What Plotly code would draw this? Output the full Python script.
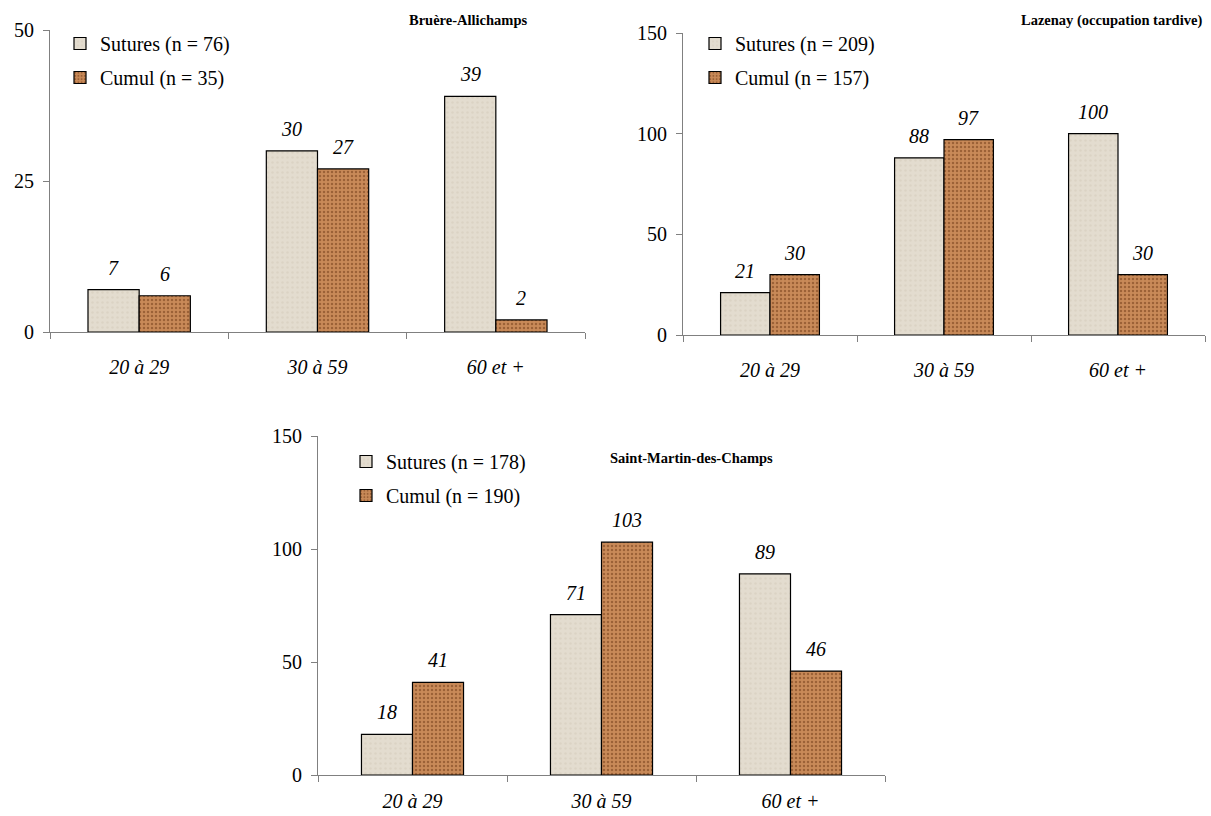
import plotly.graph_objects as go

categories = ["20 à 29", "30 à 59", "60 et +"]

titles = ["Bruère-Allichamps", "Lazenay (occupation tardive)", "Saint-Martin-des-Champs"]

sutures_1 = [7, 30, 39]
cumul_1 = [6, 27, 2]
sutures_n_1, cumul_n_1 = 76, 35

sutures_2 = [21, 88, 100]
cumul_2 = [30, 97, 30]
sutures_n_2, cumul_n_2 = 209, 157

sutures_3 = [18, 71, 89]
cumul_3 = [41, 103, 46]
sutures_n_3, cumul_n_3 = 178, 190

y_max = [50, 150, 150]
y_dtick = [25, 50, 50]

W, H = 1211, 816
FONT = "Liberation Serif, Times New Roman, serif"
FS = 20

def px(v):
    return v / W

def py(v):
    return 1 - v / H

panels = [
    dict(s=sutures_1, c=cumul_1, ns=sutures_n_1, nc=cumul_n_1,
         xd=[px(50), px(585)], yd=[py(332), py(30)], bw=0.287, standoff=17,
         leg=(px(60), py(24)), title_pos=(px(529), py(20), "right")),
    dict(s=sutures_2, c=cumul_2, ns=sutures_n_2, nc=cumul_n_2,
         xd=[px(683), px(1205)], yd=[py(335), py(33)], bw=0.284, standoff=17,
         leg=(px(695), py(24)), title_pos=(px(1204), py(20), "right")),
    dict(s=sutures_3, c=cumul_3, ns=sutures_n_3, nc=cumul_n_3,
         xd=[px(318), px(885)], yd=[py(775), py(436)], bw=0.27, standoff=8,
         leg=(px(346), py(442)), title_pos=(px(608), py(458), "left")),
]

SUT_BG = "#e3dccf"
SUT_FG = "#d4cab9"
CUM_BG = "#c98a58"
CUM_FG = "#6e3a16"

fig = go.Figure()
annotations = []
layout_axes = {}

for i, p in enumerate(panels):
    k = "" if i == 0 else str(i + 1)
    xa, ya = "x" + k, "y" + k
    legname = "legend" + k
    fig.add_trace(go.Bar(
        x=categories, y=p["s"], name=f"Sutures (n = {p['ns']})",
        width=p["bw"], offset=-p["bw"],
        marker=dict(color=SUT_BG, line=dict(color="black", width=1.2),
                    pattern=dict(shape=".", fgcolor=SUT_FG, bgcolor=SUT_BG, size=5, solidity=0.2)),
        xaxis=xa, yaxis=ya, legend=legname, legendgroup=f"s{i}",
    ))
    fig.add_trace(go.Bar(
        x=categories, y=p["c"], name=f"Cumul (n = {p['nc']})",
        width=p["bw"], offset=0,
        marker=dict(color=CUM_BG, line=dict(color="black", width=1.2),
                    pattern=dict(shape=".", fgcolor=CUM_FG, bgcolor=CUM_BG, size=4, solidity=0.3)),
        xaxis=xa, yaxis=ya, legend=legname, legendgroup=f"c{i}",
    ))
    layout_axes["xaxis" + k] = dict(
        domain=p["xd"], anchor=ya, type="category",
        range=[-0.5, 2.5], showline=True, linecolor="#808080", linewidth=1,
        ticks="outside", tickson="boundaries", ticklen=6, tickcolor="#808080",
        showgrid=False, zeroline=False, ticklabelstandoff=p["standoff"],
        tickfont=dict(family=FONT, size=FS, color="black", style="italic"),
        fixedrange=True,
    )
    layout_axes["yaxis" + k] = dict(
        domain=p["yd"], anchor=xa, range=[0, y_max[i]], dtick=y_dtick[i],
        showline=True, linecolor="#808080", linewidth=1,
        ticks="outside", ticklen=6, tickcolor="#808080",
        showgrid=False, zeroline=False, ticklabelstandoff=5,
        tickfont=dict(family=FONT, size=FS, color="black"),
        fixedrange=True,
    )
    layout_axes[legname] = dict(
        x=p["leg"][0], y=p["leg"][1], xanchor="left", yanchor="top",
        xref="paper", yref="paper",
        font=dict(family=FONT, size=FS, color="black"),
        bgcolor="rgba(0,0,0,0)", tracegroupgap=5,
        itemwidth=30,
    )
    tx, ty, al = p["title_pos"]
    annotations.append(dict(
        text=f"<b>{titles[i]}</b>", x=tx, y=ty, xref="paper", yref="paper",
        xanchor=al, yanchor="middle", showarrow=False,
        font=dict(family=FONT, size=14.5, color="black"),
    ))
    for j, cat in enumerate(categories):
        for vals, sign in ((p["s"], -1), (p["c"], 1)):
            annotations.append(dict(
                text=str(vals[j]), x=j + sign * p["bw"] / 2, y=vals[j],
                xref=xa, yref=ya, xanchor="center", yanchor="bottom",
                yshift=9, showarrow=False,
                font=dict(family=FONT, size=FS, color="black", style="italic"),
            ))

fig.update_layout(
    width=W, height=H,
    margin=dict(l=0, r=0, t=0, b=0, autoexpand=False),
    paper_bgcolor="white", plot_bgcolor="white",
    font=dict(family=FONT, color="black"),
    barmode="overlay", showlegend=True,
    annotations=annotations,
    **layout_axes,
)

fig.write_html(
    "out.html",
    config={"displayModeBar": False},
    post_script="document.body.style.margin='0';document.body.style.overflow='hidden';",
)
